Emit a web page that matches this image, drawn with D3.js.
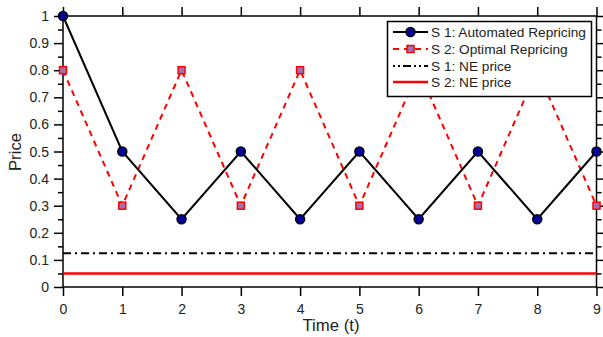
<!DOCTYPE html>
<html><head><meta charset="utf-8">
<script src="https://cdn.jsdelivr.net/npm/d3@7"></script>
<style>body{margin:0;background:#fff}svg{display:block}text{font-family:"Liberation Sans",Arial,sans-serif}</style>
</head><body><svg id="c" width="603" height="337"></svg>
<script>
const times = [0,1,2,3,4,5,6,7,8,9];
const s1Values = [1,0.5,0.25,0.5,0.25,0.5,0.25,0.5,0.25,0.5];
const s2Values = [0.8,0.3,0.8,0.3,0.8,0.3,0.8,0.3,0.8,0.3];
const s1NE = 0.125;
const s2NE = 0.05;
const yTicks = [0,0.1,0.2,0.3,0.4,0.5,0.6,0.7,0.8,0.9,1];
const xTicks = [0,1,2,3,4,5,6,7,8,9];
const legendLabels = ["S 1: Automated Repricing","S 2: Optimal Repricing","S 1: NE price","S 2: NE price"];

const svg = d3.select("#c");
function fitSize(str, target){
  const t = svg.append("text").attr("font-size",20).text(str);
  const w = t.node().getComputedTextLength(); t.remove();
  return 20*target/w;
}
const fsLegend = fitSize("S 1: Automated Repricing",155);
const fsTick = fitSize("0.9",19.5);
const fsTitle = fitSize("Time (t)",57);

const L=63, R=596.5, T=16, B=287;
const x = d3.scaleLinear().domain([0,9]).range([L,R]);
const y = d3.scaleLinear().domain([0,1]).range([B,T]);

svg.append("rect").attr("x",L).attr("y",T).attr("width",R-L).attr("height",B-T)
  .attr("fill","none").attr("stroke","#000").attr("stroke-width",1.5);

const minorY = d3.range(0.05,1,0.1);
function styleAxis(g){g.select(".domain").remove();g.selectAll("line").attr("stroke","#000").attr("stroke-width",1.5);}
svg.append("g").attr("transform",`translate(${L},0)`)
  .call(d3.axisLeft(y).tickValues(yTicks).tickSize(9).tickPadding(5).tickFormat(d=>String(+d.toFixed(1))))
  .call(styleAxis).call(g=>g.selectAll("text").attr("font-size",fsTick).attr("fill","#222"));
svg.append("g").attr("transform",`translate(${L},0)`)
  .call(d3.axisLeft(y).tickValues(minorY).tickSize(5).tickFormat("")).call(styleAxis);
svg.append("g").attr("transform",`translate(${R},0)`)
  .call(d3.axisRight(y).tickValues(yTicks).tickSize(9).tickFormat("")).call(styleAxis);
svg.append("g").attr("transform",`translate(${R},0)`)
  .call(d3.axisRight(y).tickValues(minorY).tickSize(5).tickFormat("")).call(styleAxis);
svg.append("g").attr("transform",`translate(0,${B})`)
  .call(d3.axisBottom(x).tickValues(xTicks).tickSize(9).tickPadding(8).tickFormat(d3.format("d")))
  .call(styleAxis).call(g=>g.selectAll("text").attr("font-size",fsTick).attr("fill","#222"));
svg.append("g").attr("transform",`translate(0,${T})`)
  .call(d3.axisTop(x).tickValues(xTicks).tickSize(9).tickFormat("")).call(styleAxis);

svg.append("text").attr("x",331).attr("y",331).attr("text-anchor","middle").attr("font-size",fsTitle).attr("fill","#222").text("Time (t)");
svg.append("text").attr("transform","translate(21,152) rotate(-90)").attr("text-anchor","middle").attr("font-size",fsTitle).attr("fill","#222").text("Price");

svg.append("line").attr("x1",x(0)).attr("x2",x(9)).attr("y1",y(s1NE)).attr("y2",y(s1NE))
  .attr("stroke","#000").attr("stroke-width",2).attr("stroke-dasharray","8,4,2,4");
svg.append("line").attr("x1",x(0)).attr("x2",x(9)).attr("y1",y(s2NE)).attr("y2",y(s2NE))
  .attr("stroke","#f00").attr("stroke-width",2.5);

const line = d3.line().x((d,i)=>x(times[i])).y(d=>y(d));
svg.append("path").datum(s2Values).attr("d",line).attr("fill","none")
  .attr("stroke","#f00").attr("stroke-width",2).attr("stroke-dasharray","6,5");
svg.append("path").datum(s1Values).attr("d",line).attr("fill","none")
  .attr("stroke","#000").attr("stroke-width",2);
svg.selectAll(".sq").data(s2Values).join("rect").attr("class","sq")
  .attr("x",(d,i)=>x(times[i])-3.5).attr("y",d=>y(d)-3.5).attr("width",7).attr("height",7)
  .attr("fill","#a070b0").attr("stroke","#f00").attr("stroke-width",1.5);
svg.selectAll(".dot").data(s1Values).join("circle").attr("class","dot")
  .attr("cx",(d,i)=>x(times[i])).attr("cy",d=>y(d)).attr("r",4.5)
  .attr("fill","#00009a").attr("stroke","#000").attr("stroke-width",1.5);

const lg = svg.append("g");
lg.append("rect").attr("x",387.5).attr("y",21.5).attr("width",204).attr("height",75)
  .attr("fill","#fff").attr("stroke","#000").attr("stroke-width",1.5);
const ly = [32,49,66,82];
const lx1=393, lx2=428;
lg.append("line").attr("x1",lx1).attr("x2",lx2).attr("y1",ly[0]).attr("y2",ly[0]).attr("stroke","#000").attr("stroke-width",2);
lg.append("circle").attr("cx",(lx1+lx2)/2).attr("cy",ly[0]).attr("r",4.5).attr("fill","#00009a").attr("stroke","#000").attr("stroke-width",1.5);
lg.append("line").attr("x1",lx1).attr("x2",lx2).attr("y1",ly[1]).attr("y2",ly[1]).attr("stroke","#f00").attr("stroke-width",2).attr("stroke-dasharray","6,5");
lg.append("rect").attr("x",(lx1+lx2)/2-3.5).attr("y",ly[1]-3.5).attr("width",7).attr("height",7).attr("fill","#a070b0").attr("stroke","#f00").attr("stroke-width",1.5);
lg.append("line").attr("x1",lx1).attr("x2",lx2).attr("y1",ly[2]).attr("y2",ly[2]).attr("stroke","#000").attr("stroke-width",2).attr("stroke-dasharray","2,3,2,3,8,3");
lg.append("line").attr("x1",lx1).attr("x2",lx2).attr("y1",ly[3]).attr("y2",ly[3]).attr("stroke","#f00").attr("stroke-width",2.5);
lg.selectAll(".lt").data(legendLabels).join("text").attr("class","lt")
  .attr("x",431).attr("y",(d,i)=>ly[i]+5)
  .attr("font-size",fsLegend).attr("fill","#222").text(d=>d);
</script></body></html>
